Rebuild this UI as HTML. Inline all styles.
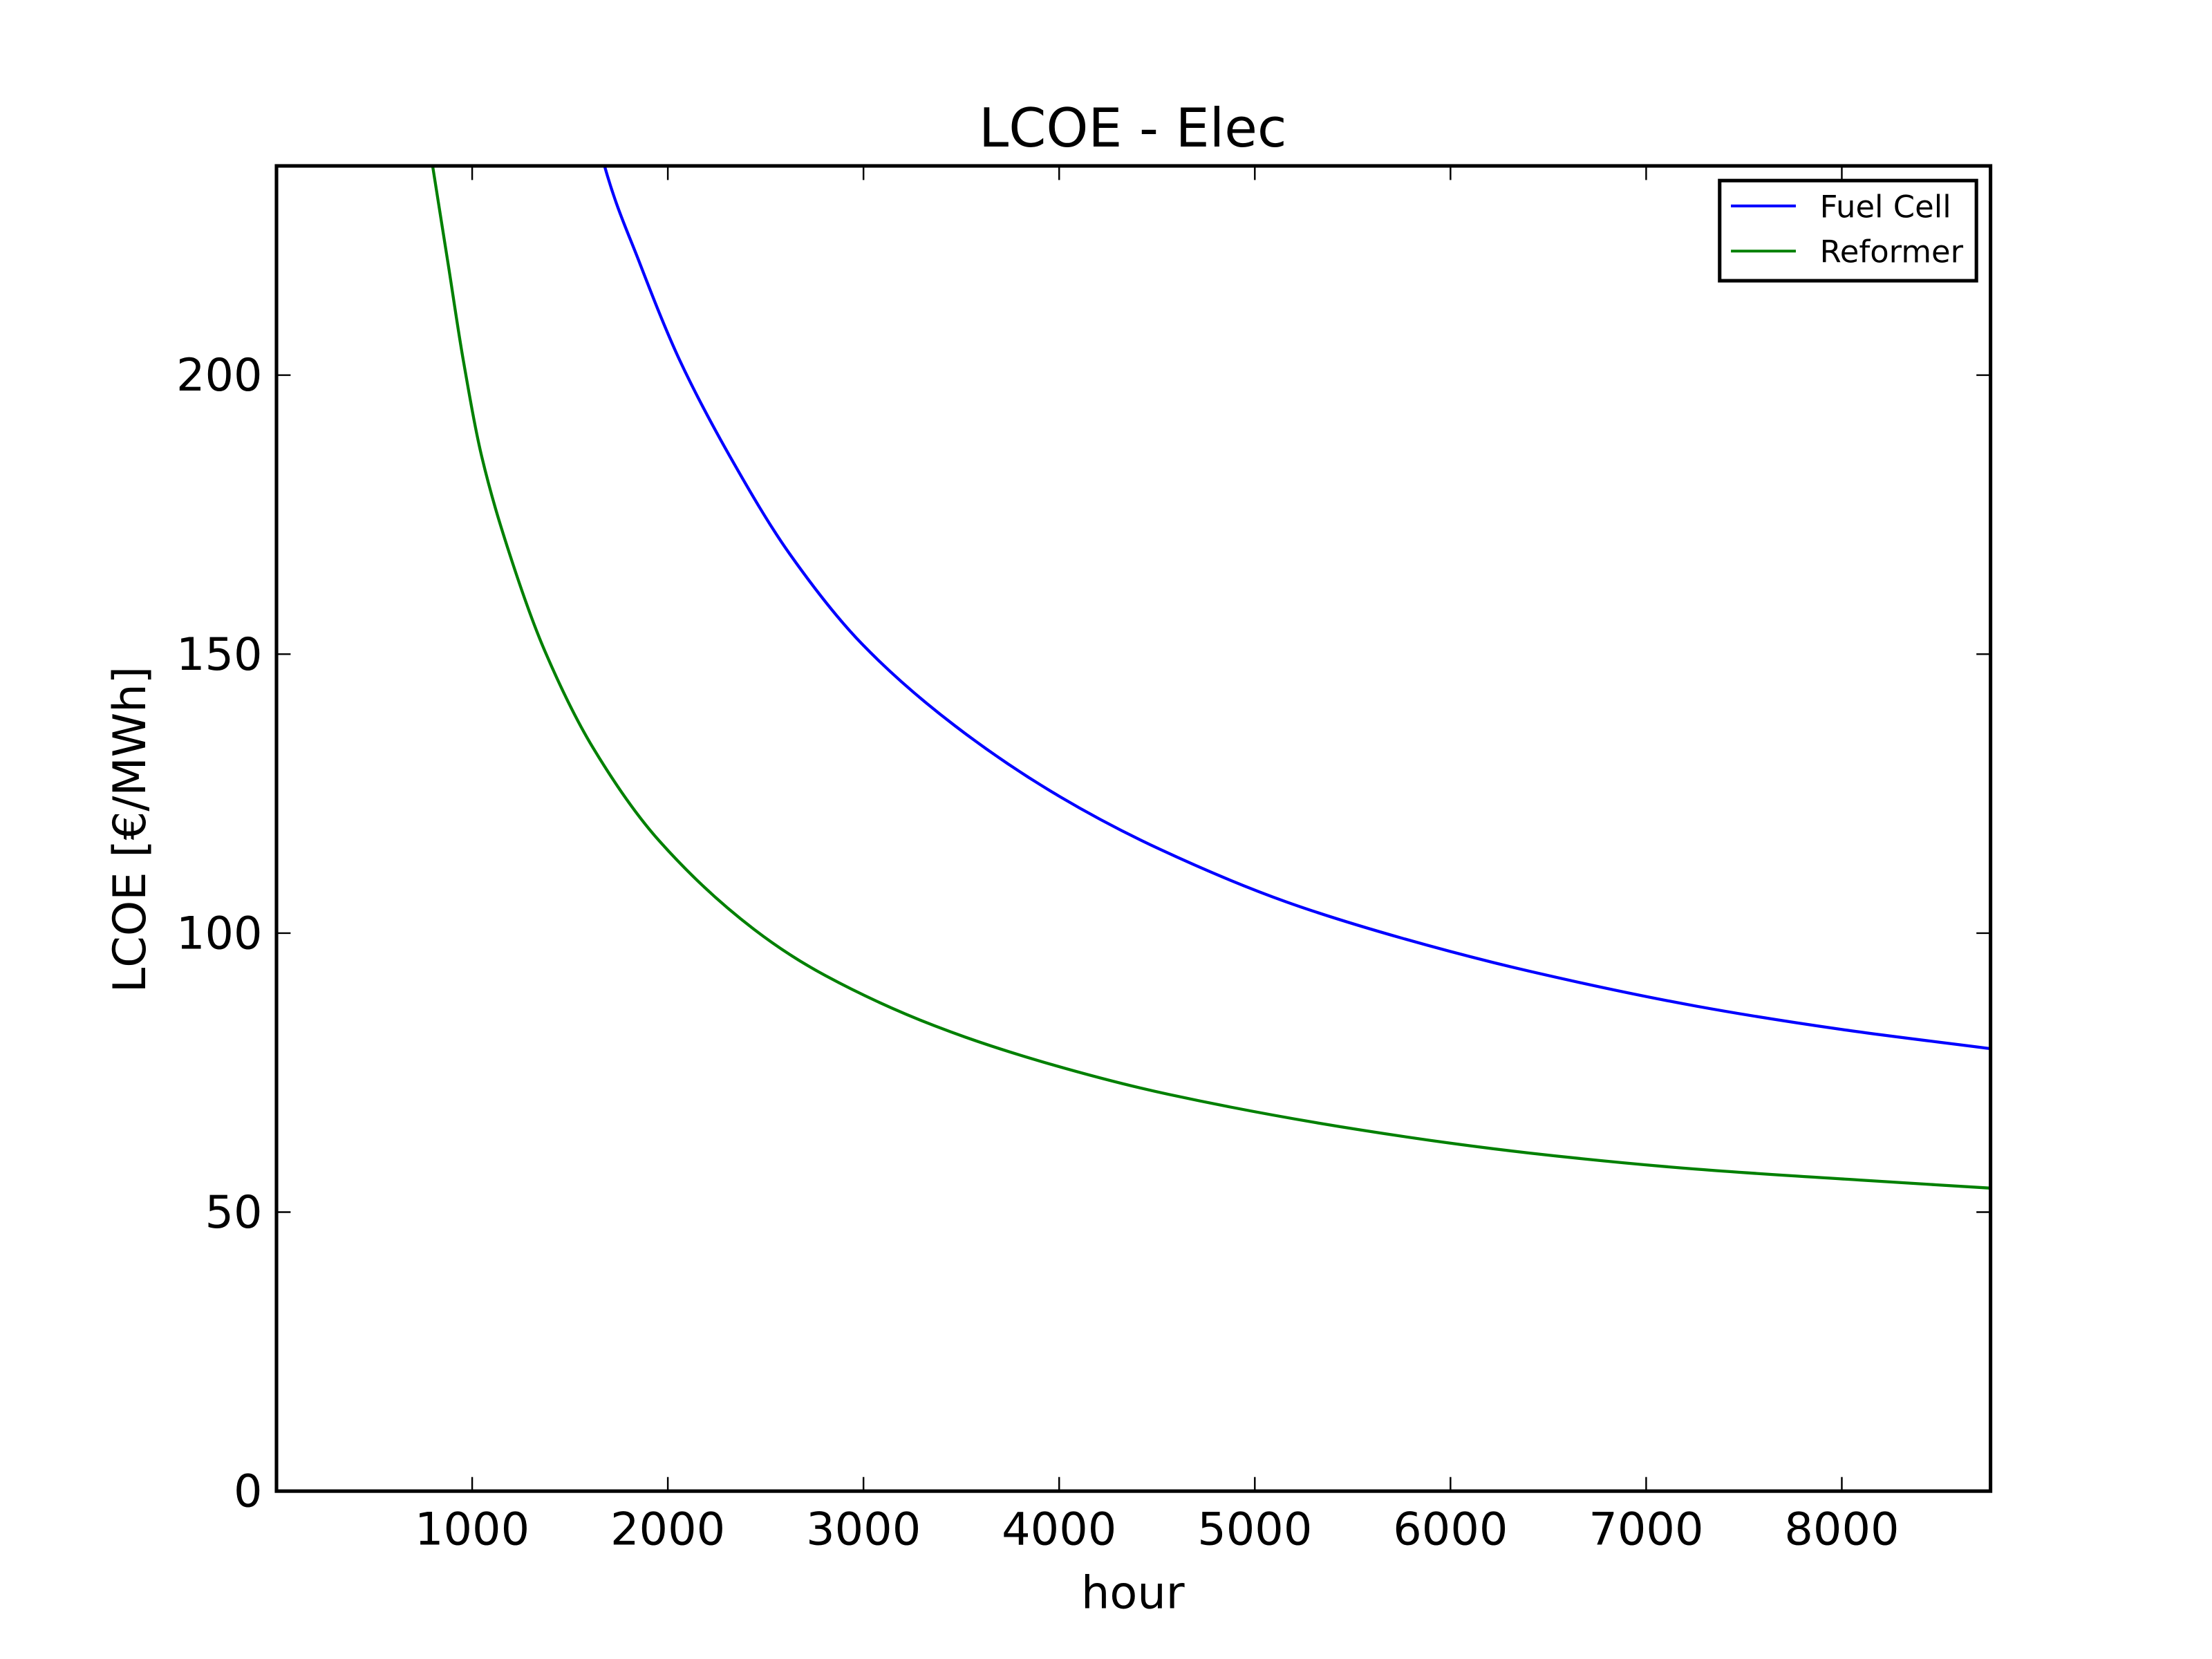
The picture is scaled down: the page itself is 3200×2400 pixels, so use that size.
<!DOCTYPE html>
<html><head><meta charset="utf-8"><style>
html,body{margin:0;padding:0;background:#fff;}
svg{display:block;}
text{font-family:"DejaVu Sans","Liberation Sans",sans-serif;fill:#000;}
</style></head><body>
<svg id="chart" width="3200" height="2400" viewBox="0 0 1568 1176" xmlns="http://www.w3.org/2000/svg">
<rect x="0" y="0" width="1568" height="1176" fill="#fff"/>
<text x="803" y="104" font-size="38" text-anchor="middle">LCOE - Elec</text>
<g id="plot"></g>
<text x="803" y="1140" font-size="32" text-anchor="middle">hour</text>
<text transform="translate(103,588) rotate(-90)" font-size="32" text-anchor="middle">LCOE [€/MWh]</text>
<g>
<rect x="1219" y="128" width="182" height="71" fill="#fff" stroke="#000" stroke-width="2.5"/>
<line x1="1227" y1="146" x2="1273" y2="146" stroke="#0000ff" stroke-width="2"/>
<text x="1290" y="154" font-size="22">Fuel Cell</text>
<line x1="1227" y1="178" x2="1273" y2="178" stroke="#008000" stroke-width="2"/>
<text x="1290" y="186" font-size="22">Reformer</text>
</g>
</svg>
<script>
const xTicks = [1000,2000,3000,4000,5000,6000,7000,8000];
const yTicks = [0,50,100,150,200];
const fuelCellHours = [1640,1675,1855,2059,2318,2622,2993,3466,4002,4517,5161,5762,6401,7259,7987,8760];
const fuelCellValues = [244,237.7,220.2,202.8,185.4,168.0,151.8,137.2,124.5,115.0,105.6,99.0,93.2,86.9,82.8,79.3];
const reformerHours = [770,797,876,954,1049,1191,1371,1618,1957,2440,2805,3363,3918,4560,5546,6401,7259,8114,8760];
const reformerValues = [244,237.7,220.2,202.8,185.4,168.0,150.6,133.2,116.5,100.7,92.4,83.4,76.9,71.1,64.7,60.6,57.7,55.7,54.3];

const L=196,R=1411,T=117.6,B=1057,XMAX=8760,YMAX=237.5;
function sx(v){return L+(v/XMAX)*(R-L);}
function sy(v){return B-(v/YMAX)*(B-T);}
const NS="http://www.w3.org/2000/svg";
const plot=document.getElementById('plot');
function mk(tag,attrs){const e=document.createElementNS(NS,tag);for(const k in attrs)e.setAttribute(k,attrs[k]);return e;}

const clip=mk('clipPath',{id:'pc'});
clip.appendChild(mk('rect',{x:L,y:T,width:R-L,height:B-T}));
plot.appendChild(clip);

function smoothPath(xs,ys){
  const n=xs.length, d=[], m=[];
  for(let i=0;i<n-1;i++) d.push((ys[i+1]-ys[i])/(xs[i+1]-xs[i]));
  m[0]=d[0]; m[n-1]=d[n-2];
  for(let i=1;i<n-1;i++){ m[i]=(d[i-1]*d[i]<=0)?0:2/(1/d[i-1]+1/d[i]); }
  let p='M'+xs[0].toFixed(2)+','+ys[0].toFixed(2);
  for(let i=0;i<n-1;i++){
    const h=(xs[i+1]-xs[i])/3;
    p+='C'+(xs[i]+h).toFixed(2)+','+(ys[i]+m[i]*h).toFixed(2)+' '+(xs[i+1]-h).toFixed(2)+','+(ys[i+1]-m[i+1]*h).toFixed(2)+' '+xs[i+1].toFixed(2)+','+ys[i+1].toFixed(2);
  }
  return p;
}
function series(hours,vals,color,name){
  const d=smoothPath(hours.map(sx),vals.map(sy));
  const p=mk('path',{d:d,fill:'none',stroke:color,'stroke-width':2.1,'clip-path':'url(#pc)','stroke-linejoin':'round'});
  
  
  plot.appendChild(p);
}
series(fuelCellHours,fuelCellValues,'#0000ff','fuel-cell-line');
series(reformerHours,reformerValues,'#008000','reformer-line');

xTicks.forEach(t=>{
  const x=sx(t);
  const a=mk('line',{x1:x,y1:B,x2:x,y2:B-10,stroke:'#000','stroke-width':1.2});
  
  
  plot.appendChild(a);
  const b=mk('line',{x1:x,y1:T,x2:x,y2:T+10,stroke:'#000','stroke-width':1.2});
  
  
  plot.appendChild(b);
  const tx=mk('text',{x:x,y:B+38,'font-size':32,'text-anchor':'middle'});
  tx.textContent=t;
  
  
  plot.appendChild(tx);
});
yTicks.forEach(t=>{
  const y=sy(t);
  const a=mk('line',{x1:L,y1:y,x2:L+10,y2:y,stroke:'#000','stroke-width':1.2});
  
  
  plot.appendChild(a);
  const b=mk('line',{x1:R,y1:y,x2:R-10,y2:y,stroke:'#000','stroke-width':1.2});
  
  
  plot.appendChild(b);
  const tx=mk('text',{x:L-10,y:y+11,'font-size':32,'text-anchor':'end'});
  tx.textContent=t;
  
  
  plot.appendChild(tx);
});
const frame=mk('rect',{x:L,y:T,width:R-L,height:B-T,fill:'none',stroke:'#000','stroke-width':2.5});


plot.appendChild(frame);
</script>
</body></html>
